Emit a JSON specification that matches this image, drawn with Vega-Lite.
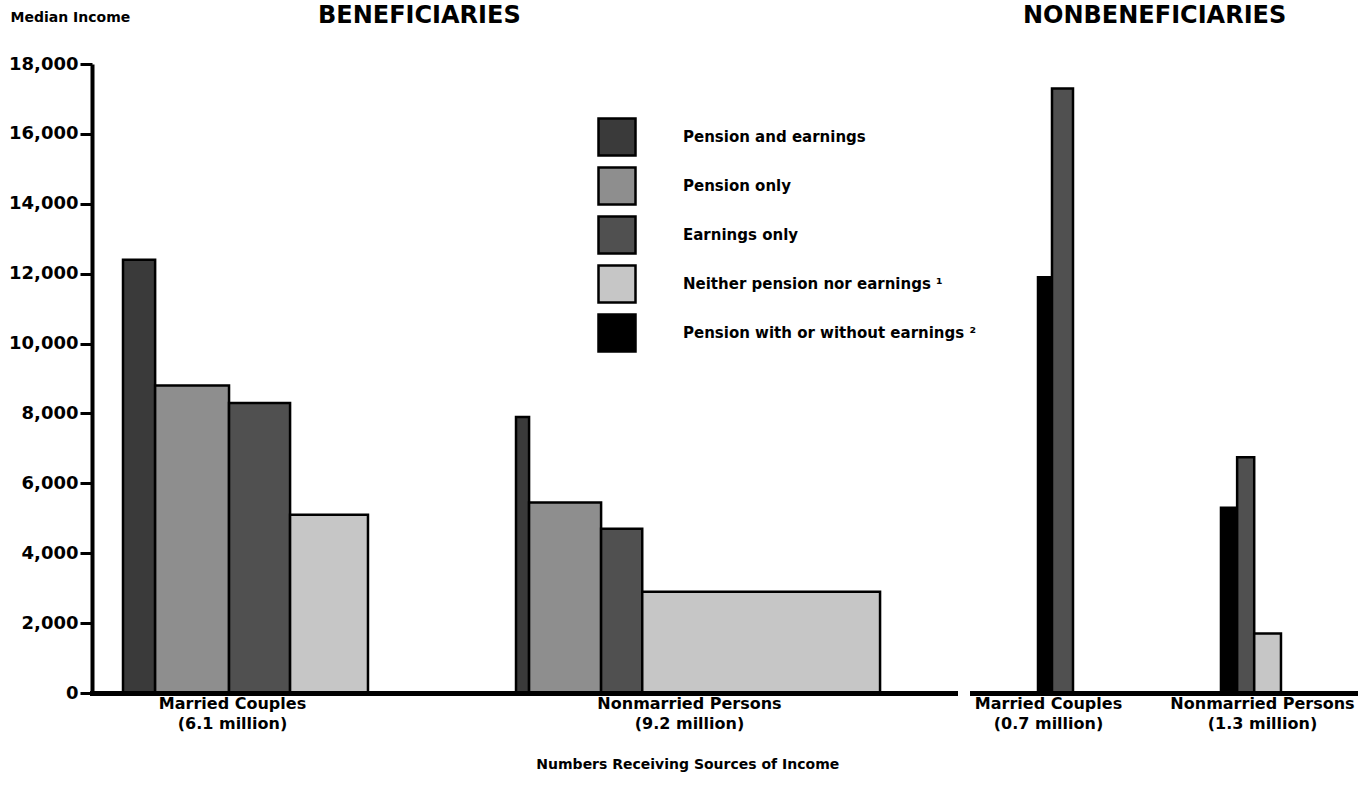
{
  "$schema": "https://vega.github.io/schema/vega-lite/v6.json",
  "padding": {"left": 8, "top": 4, "right": 4, "bottom": 4},
  "background": "white",
  "config": {
    "view": {"stroke": null},
    "font": "DejaVu Sans",
    "title": {"font": "DejaVu Sans", "fontWeight": "bold", "fontSize": 24, "color": "black"}
  },
  "title": {"text": "Numbers Receiving Sources of Income", "orient": "bottom", "anchor": "middle", "frame": "bounds", "fontSize": 14, "dx": 6, "offset": 27},
  "data": {
    "values": [
      {"status": "Beneficiaries", "unit": "Married Couples", "order": 1, "source": "Pension and earnings", "millions": 0.80, "income": 12400},
      {"status": "Beneficiaries", "unit": "Married Couples", "order": 2, "source": "Pension only", "millions": 1.84, "income": 8800},
      {"status": "Beneficiaries", "unit": "Married Couples", "order": 3, "source": "Earnings only", "millions": 1.52, "income": 8300},
      {"status": "Beneficiaries", "unit": "Married Couples", "order": 4, "source": "Neither pension nor earnings", "millions": 1.94, "income": 5100},
      {"status": "Beneficiaries", "unit": "Nonmarried Persons", "order": 1, "source": "Pension and earnings", "millions": 0.33, "income": 7900},
      {"status": "Beneficiaries", "unit": "Nonmarried Persons", "order": 2, "source": "Pension only", "millions": 1.82, "income": 5450},
      {"status": "Beneficiaries", "unit": "Nonmarried Persons", "order": 3, "source": "Earnings only", "millions": 1.04, "income": 4700},
      {"status": "Beneficiaries", "unit": "Nonmarried Persons", "order": 4, "source": "Neither pension nor earnings", "millions": 6.01, "income": 2900},
      {"status": "Nonbeneficiaries", "unit": "Married Couples", "order": 1, "source": "Pension with or without earnings", "millions": 0.28, "income": 11900},
      {"status": "Nonbeneficiaries", "unit": "Married Couples", "order": 2, "source": "Earnings only", "millions": 0.42, "income": 17300},
      {"status": "Nonbeneficiaries", "unit": "Nonmarried Persons", "order": 1, "source": "Pension with or without earnings", "millions": 0.35, "income": 5300},
      {"status": "Nonbeneficiaries", "unit": "Nonmarried Persons", "order": 2, "source": "Earnings only", "millions": 0.37, "income": 6750},
      {"status": "Nonbeneficiaries", "unit": "Nonmarried Persons", "order": 3, "source": "Neither pension nor earnings", "millions": 0.58, "income": 1700}
    ]
  },
  "transform": [
    {"stack": "millions", "groupby": ["status", "unit"], "sort": [{"field": "order", "order": "ascending"}], "as": ["cum_start", "cum_end"]}
  ],
  "resolve": {"scale": {"x": "independent", "y": "independent", "color": "shared"}},
  "spacing": 17,
  "hconcat": [
    {
      "spacing": 0,
      "bounds": "flush",
      "resolve": {"scale": {"x": "independent", "y": "independent", "color": "shared"}},
      "hconcat": [
        {
          "width": 300,
          "height": 629,
          "transform": [{"filter": "datum.status === 'Beneficiaries' && datum.unit === 'Married Couples'"}],
          "mark": {"type": "bar", "stroke": "black", "strokeWidth": 2.5},
          "encoding": {
            "x": {"field": "cum_start", "type": "quantitative", "scale": {"domain": [-0.772, 6.698], "nice": false, "zero": false},
              "axis": {"labels": false, "ticks": false, "grid": false, "domainWidth": 5, "domainColor": "black", "domainCap": "square", "zindex": 1,
                "title": ["Married Couples", "(6.1 million)"], "titleX": 140, "titleFont": "DejaVu Sans", "titleFontWeight": "bold", "titleFontSize": 16, "titleLineHeight": 20, "titlePadding": 2, "titleColor": "black"}},
            "x2": {"field": "cum_end"},
            "y": {"field": "income", "type": "quantitative", "scale": {"domain": [0, 18000], "nice": false},
              "axis": {"values": [0, 2000, 4000, 6000, 8000, 10000, 12000, 14000, 16000, 18000], "format": ",d", "grid": false,
                "labelFont": "DejaVu Sans", "labelFontWeight": "bold", "labelFontSize": 18, "labelColor": "black", "labelPadding": 2,
                "tickSize": 12, "tickWidth": 3, "tickColor": "black", "domainWidth": 4, "domainColor": "black", "zindex": 1,
                "title": "Median Income", "titleAngle": 0, "titleAlign": "left", "titleBaseline": "middle", "titleX": -82, "titleY": -47,
                "titleFont": "DejaVu Sans", "titleFontSize": 14, "titleFontWeight": "bold", "titleColor": "black"}},
            "y2": {"datum": 0},
            "color": {"field": "source", "type": "nominal",
              "scale": {"domain": ["Pension and earnings", "Pension only", "Earnings only", "Neither pension nor earnings", "Pension with or without earnings"],
                "range": ["#3a3a3a", "#8e8e8e", "#505050", "#c6c6c6", "#000000"]},
              "legend": {"title": null, "orient": "none", "legendX": 505, "legendY": 53, "symbolType": "square", "symbolSize": 1369,
                "symbolStrokeColor": "black", "symbolStrokeWidth": 2.5, "symbolOpacity": 1, "rowPadding": 1, "labelOffset": 46, "labelLimit": 400,
                "labelFont": "DejaVu Sans", "labelFontWeight": "bold", "labelFontSize": 15, "labelColor": "black",
                "labelExpr": "datum.label === 'Neither pension nor earnings' ? datum.label + '  \u00b9' : datum.label === 'Pension with or without earnings' ? datum.label + ' \u00b2' : datum.label"}}
          }
        },
        {
          "width": 563,
          "height": 629,
          "title": {"text": "BENEFICIARIES", "anchor": "start", "align": "left", "frame": "group", "dx": -74, "offset": 36},
          "transform": [{"filter": "datum.status === 'Beneficiaries' && datum.unit === 'Nonmarried Persons'"}],
          "mark": {"type": "bar", "stroke": "black", "strokeWidth": 2.5},
          "encoding": {
            "x": {"field": "cum_start", "type": "quantitative", "scale": {"domain": [-3.134, 11.094], "nice": false, "zero": false},
              "axis": {"labels": false, "ticks": false, "grid": false, "domainWidth": 5, "domainColor": "black", "domainCap": "square", "zindex": 1,
                "title": ["Nonmarried Persons", "(9.2 million)"], "titleX": 297, "titleFont": "DejaVu Sans", "titleFontWeight": "bold", "titleFontSize": 16, "titleLineHeight": 20, "titlePadding": 2, "titleColor": "black"}},
            "x2": {"field": "cum_end"},
            "y": {"field": "income", "type": "quantitative", "scale": {"domain": [0, 18000], "nice": false}, "axis": null},
            "y2": {"datum": 0},
            "color": {"field": "source", "type": "nominal"}
          }
        }
      ]
    },
    {
      "spacing": 0,
      "bounds": "flush",
      "resolve": {"scale": {"x": "independent", "y": "independent", "color": "shared"}},
      "hconcat": [
        {
          "width": 193,
          "height": 629,
          "title": {"text": "NONBENEFICIARIES", "anchor": "start", "align": "left", "frame": "group", "dx": 51, "offset": 36},
          "transform": [{"filter": "datum.status === 'Nonbeneficiaries' && datum.unit === 'Married Couples'"}],
          "mark": {"type": "bar", "stroke": "black", "strokeWidth": 2.5},
          "encoding": {
            "x": {"field": "cum_start", "type": "quantitative", "scale": {"domain": [-1.32, 2.54], "nice": false, "zero": false},
              "axis": {"labels": false, "ticks": false, "grid": false, "domainWidth": 5, "domainColor": "black", "domainCap": "square", "zindex": 1,
                "title": ["Married Couples", "(0.7 million)"], "titleX": 76, "titleFont": "DejaVu Sans", "titleFontWeight": "bold", "titleFontSize": 16, "titleLineHeight": 20, "titlePadding": 2, "titleColor": "black"}},
            "x2": {"field": "cum_end"},
            "y": {"field": "income", "type": "quantitative", "scale": {"domain": [0, 18000], "nice": false}, "axis": null},
            "y2": {"datum": 0},
            "color": {"field": "source", "type": "nominal"}
          }
        },
        {
          "width": 190,
          "height": 629,
          "transform": [{"filter": "datum.status === 'Nonbeneficiaries' && datum.unit === 'Nonmarried Persons'"}],
          "mark": {"type": "bar", "stroke": "black", "strokeWidth": 2.5},
          "encoding": {
            "x": {"field": "cum_start", "type": "quantitative", "scale": {"domain": [-1.213, 2.904], "nice": false, "zero": false},
              "axis": {"labels": false, "ticks": false, "grid": false, "domainWidth": 5, "domainColor": "black", "domainCap": "square", "zindex": 1,
                "title": ["Nonmarried Persons", "(1.3 million)"], "titleX": 97, "titleFont": "DejaVu Sans", "titleFontWeight": "bold", "titleFontSize": 16, "titleLineHeight": 20, "titlePadding": 2, "titleColor": "black"}},
            "x2": {"field": "cum_end"},
            "y": {"field": "income", "type": "quantitative", "scale": {"domain": [0, 18000], "nice": false}, "axis": null},
            "y2": {"datum": 0},
            "color": {"field": "source", "type": "nominal"}
          }
        }
      ]
    }
  ]
}
